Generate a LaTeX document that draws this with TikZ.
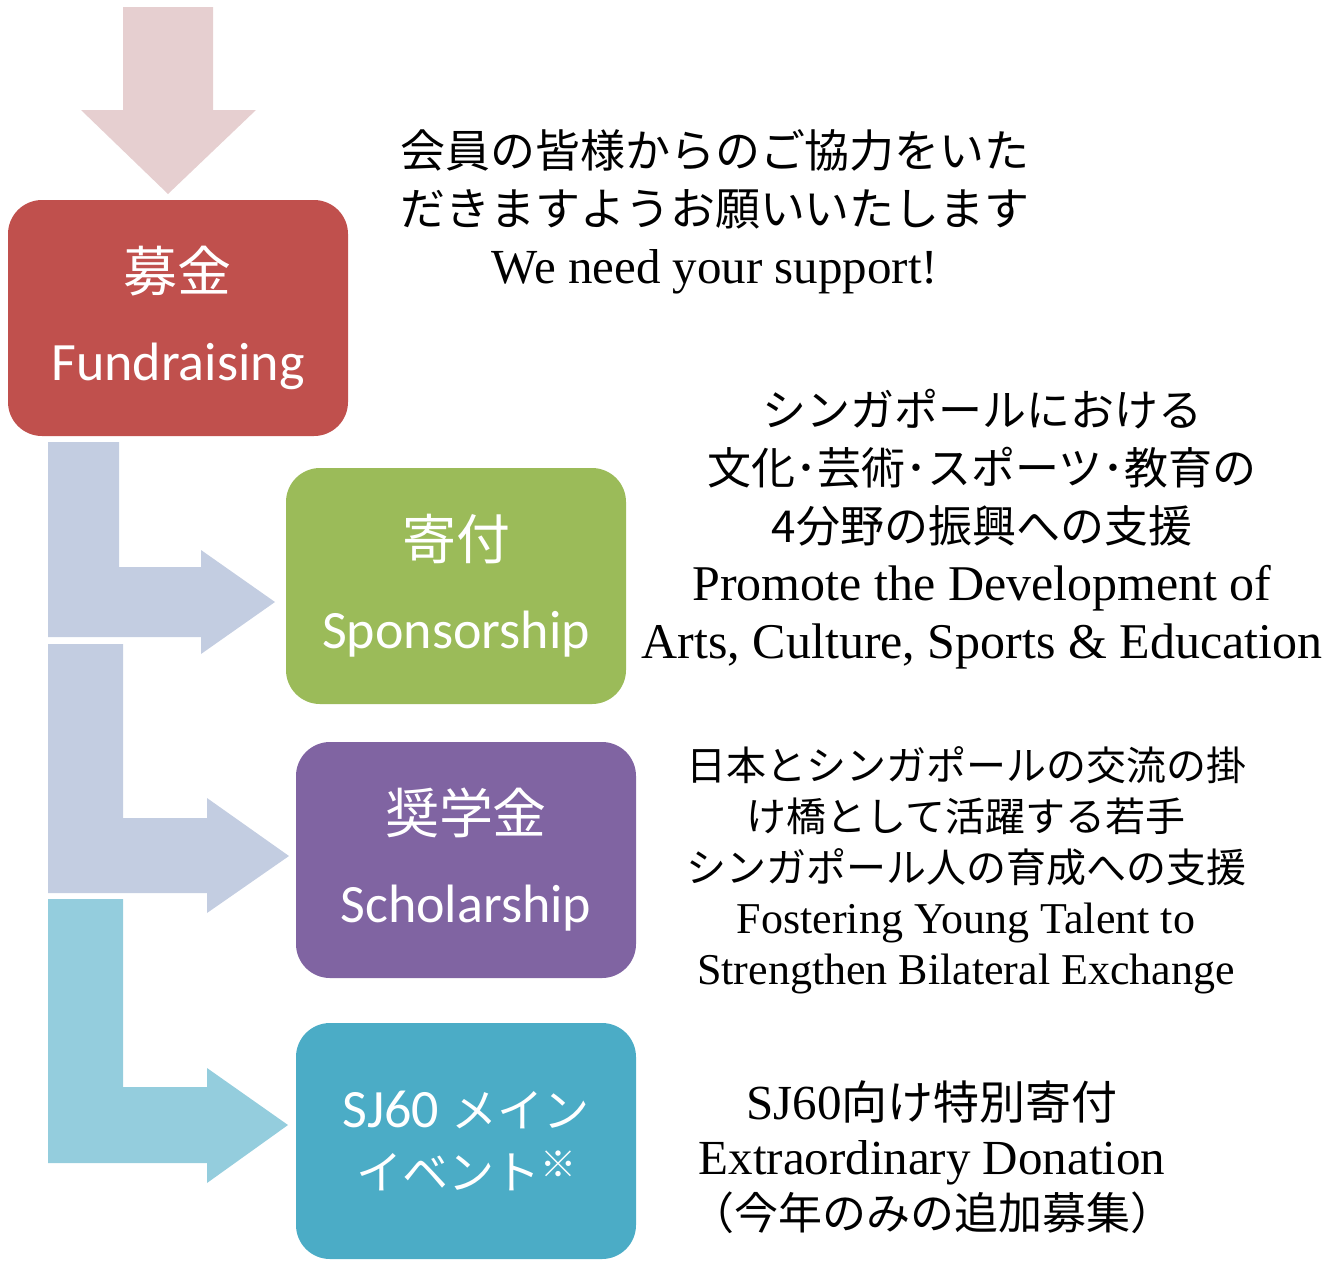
\documentclass[tikz,border=0pt]{standalone}
\usepackage{fontspec}
\setmainfont{Liberation Serif}
\newfontfamily\jp{Noto Sans CJK JP}
\newfontfamily\boxfont{Carlito}
\definecolor{fundred}{HTML}{C0504D}
\definecolor{sponsgreen}{HTML}{9BBB59}
\definecolor{scholpurple}{HTML}{8064A2}
\definecolor{eventteal}{HTML}{4BACC6}
\definecolor{toppink}{HTML}{E6CFD0}
\definecolor{arrgray}{HTML}{C3CDE1}
\definecolor{arrteal}{HTML}{94CDDD}

\begin{document}
\begin{tikzpicture}[x=0.5pt,y=-0.5pt,
    box/.style={rounded corners=17pt, minimum width=170pt, minimum height=118pt,
        inner sep=0pt, text=white, align=center,
        font={\boxfont\fontsize{27pt}{44.5pt}\selectfont}},
    note/.style={align=center, text=black, inner sep=0pt}]
        \useasboundingbox (0,0) rectangle (1340,1260);

        % Стрелки
        \fill[toppink] (123,7) -- (213,7) -- (213,110) -- (256,110) -- (168,194)
            -- (81,110) -- (123,110) -- cycle;
        \fill[arrgray] (48,442) -- (119,442) -- (119,567) -- (201,567) -- (201,550)
            -- (275,602) -- (201,654) -- (201,637) -- (48,637) -- cycle;
        \fill[arrgray] (48,644) -- (123,644) -- (123,818) -- (207,818) -- (207,798)
            -- (289,856) -- (207,913) -- (207,893) -- (48,893) -- cycle;
        \fill[arrteal] (48,899) -- (123,899) -- (123,1087) -- (207,1087) -- (207,1068)
            -- (288,1125) -- (207,1183) -- (207,1163) -- (48,1163) -- cycle;

        % Блоки
        \node[box, fill=fundred]     (fund)  at (178,318)  {{\jp 募金}\\Fundraising};
        \node[box, fill=sponsgreen]  (spons) at (456,586)  {{\jp 寄付}\\Sponsorship};
        \node[box, fill=scholpurple] (schol) at (466,860)  {{\jp 奨学金}\\Scholarship};
        \node[box, fill=eventteal, font={\boxfont\fontsize{27pt}{31pt}\selectfont}]
            (event) at (466,1141) {SJ60 {\jp\fontsize{23pt}{31pt}\selectfont メイン}\\
            {\jp\fontsize{23pt}{31pt}\selectfont イベント\raisebox{6pt}{\fontsize{18pt}{18pt}\selectfont ※}}};

        % Подписи
        \node[note, font=\fontsize{24.5pt}{29pt}\selectfont] (askT) at (715,212)
            {{\jp\fontsize{22.5pt}{29pt}\selectfont 会員の皆様からのご協力をいた}\\
             {\jp\fontsize{22.5pt}{29pt}\selectfont だきますようお願いいたします}\\
             We need your support!};
        \node[note, font=\fontsize{25pt}{29pt}\selectfont] (sponsT) at (982,529)
            {{\jp\fontsize{22pt}{29pt}\selectfont シンガポールにおける}\\
             {\jp\fontsize{22pt}{29pt}\selectfont 文化･芸術･スポーツ･教育の}\\
             {\jp\fontsize{22pt}{29pt}\selectfont 4分野の振興への支援}\\
             Promote the Development of\\
             Arts, Culture, Sports \& Education};
        \node[note, font=\fontsize{22pt}{25.5pt}\selectfont] (scholT) at (966,870)
            {{\jp\fontsize{20pt}{25.5pt}\selectfont 日本とシンガポールの交流の掛}\\
             {\jp\fontsize{20pt}{25.5pt}\selectfont け橋として活躍する若手}\\
             {\jp\fontsize{20pt}{25.5pt}\selectfont シンガポール人の育成への支援}\\
             Fostering Young Talent to\\
             Strengthen Bilateral Exchange};
        \node[note, font=\fontsize{24.5pt}{27.5pt}\selectfont] (eventT) at (932,1157)
            {SJ60{\jp\fontsize{23pt}{27.5pt}\selectfont 向け特別寄付}\\
             Extraordinary Donation\\
             {\jp\fontsize{22pt}{27.5pt}\selectfont （今年のみの追加募集）}};
    \end{tikzpicture}
\end{document}
